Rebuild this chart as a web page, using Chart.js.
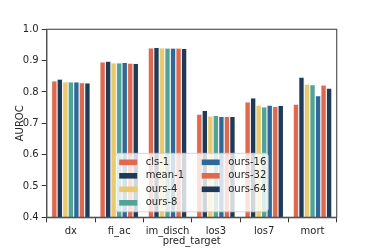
<!DOCTYPE html>
<html>
<head>
<meta charset="utf-8">
<script src="https://cdn.jsdelivr.net/npm/chart.js@4"></script>
<style>
  html, body { margin: 0; padding: 0; background: #fff; }
  #wrap { width: 374px; height: 249px; }
</style>
</head>
<body>
<div id="wrap"><canvas id="myChart"></canvas></div>
<script>
const categories = ['dx', 'fi_ac', 'im_disch', 'los3', 'los7', 'mort'];
const seriesNames = ['cls-1', 'mean-1', 'ours-4', 'ours-8', 'ours-16', 'ours-32', 'ours-64'];
const cls1   = [0.835, 0.896, 0.941, 0.729, 0.768, 0.761];
const mean1  = [0.841, 0.898, 0.942, 0.741, 0.781, 0.847];
const ours4  = [0.832, 0.893, 0.941, 0.723, 0.758, 0.825];
const ours8  = [0.832, 0.893, 0.940, 0.725, 0.752, 0.823];
const ours16 = [0.832, 0.894, 0.940, 0.722, 0.758, 0.788];
const ours32 = [0.830, 0.892, 0.940, 0.722, 0.754, 0.822];
const ours64 = [0.829, 0.891, 0.939, 0.722, 0.757, 0.812];
const yTicks = [0.4, 0.5, 0.6, 0.7, 0.8, 0.9, 1.0];

const colors = ['#e0684f', '#1e3a56', '#e9ca6e', '#50a397', '#2d6898', '#e0684f', '#1e3a56'];
const values = [cls1, mean1, ours4, ours8, ours16, ours32, ours64];

const FONT = 'DejaVu Sans';
const TXT = '#262626';

// box around the plot (top and right spines)
const frame = {
  id: 'frame',
  afterDatasetsDraw(chart) {
    const { ctx, chartArea: a } = chart;
    ctx.save();
    ctx.strokeStyle = '#555';
    ctx.lineWidth = 1.2;
    ctx.strokeRect(a.left, a.top, a.right - a.left, a.bottom - a.top);
    ctx.restore();
  }
};

// legend inside plot, two columns filled top-down
const boxLegend = {
  id: 'boxLegend',
  afterDraw(chart) {
    const { ctx, chartArea: a } = chart;
    const x0 = a.left + 69, y0 = a.top + 124, w = 152.5, h = 58.5;
    ctx.save();
    ctx.fillStyle = 'rgba(255,255,255,0.8)';
    ctx.strokeStyle = 'rgba(204,204,204,0.8)';
    ctx.lineWidth = 1;
    ctx.beginPath();
    ctx.roundRect(x0, y0, w, h, 3);
    ctx.fill();
    ctx.stroke();
    ctx.font = '10px ' + FONT;
    ctx.textBaseline = 'middle';
    ctx.fillStyle = TXT;
    chart.data.datasets.forEach((ds, i) => {
      const col = Math.floor(i / 4), row = i % 4;
      const sx = x0 + 3.5 + col * 82.5;
      const cy = y0 + 9 + row * 13.5;
      ctx.fillStyle = ds.backgroundColor;
      ctx.fillRect(sx, cy - 2.8, 18, 5.6);
      ctx.fillStyle = TXT;
      ctx.fillText(ds.label, sx + 26.5, cy);
    });
    ctx.restore();
  }
};

new Chart(document.getElementById('myChart'), {
  type: 'bar',
  data: {
    labels: categories,
    datasets: seriesNames.map((name, i) => ({
      label: name,
      data: values[i],
      backgroundColor: colors[i],
      borderColor: 'rgba(225,225,225,0.9)',
      borderWidth: 0.6
    }))
  },
  options: {
    responsive: true,
    maintainAspectRatio: false,
    animation: false,
    layout: { padding: { left: 0, right: 37.3, top: 29.3, bottom: 0 } },
    datasets: { bar: { categoryPercentage: 0.8, barPercentage: 1.0 } },
    plugins: { legend: { display: false }, tooltip: { enabled: false } },
    scales: {
      x: {
        grid: { display: true, drawOnChartArea: false, color: '#333', tickLength: 5, tickWidth: 1 },
        border: { display: true, color: '#333', width: 1.2 },
        ticks: { color: TXT, font: { family: FONT, size: 10 }, padding: 3, maxRotation: 0 },
        title: { display: true, text: 'pred_target', color: TXT, font: { family: FONT, size: 10 }, padding: { top: 0, bottom: 1.5 } },
        afterFit(s) { s.height = 31.7; }
      },
      y: {
        min: 0.4,
        max: 1.0,
        afterBuildTicks(s) { s.ticks = yTicks.map(v => ({ value: v })); },
        grid: { display: true, drawOnChartArea: false, color: '#333', tickLength: 5, tickWidth: 1 },
        border: { display: true, color: '#333', width: 1.2 },
        ticks: { color: TXT, font: { family: FONT, size: 10 }, padding: 3, callback: v => v.toFixed(1) },
        title: { display: true, text: 'AUROC', color: TXT, font: { family: FONT, size: 10 }, padding: { top: 14.5, bottom: 0 } },
        afterFit(s) { s.width = 46.7; }
      }
    }
  },
  plugins: [frame, boxLegend]
});
</script>
</body>
</html>
